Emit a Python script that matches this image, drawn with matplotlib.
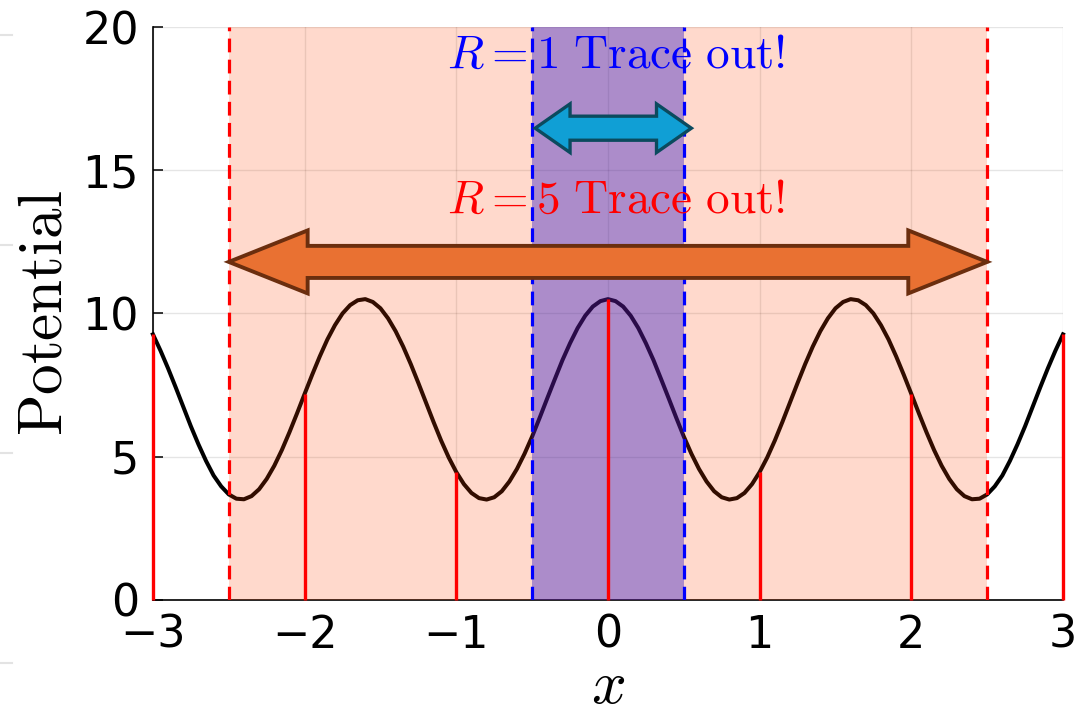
import matplotlib
matplotlib.use("Agg")
import matplotlib.pyplot as plt
import numpy as np
from matplotlib.patches import Polygon
from matplotlib.lines import Line2D

plt.rcParams['mathtext.fontset'] = 'cm'
plt.rcParams['font.family'] = ['DejaVu Sans']

# --- data ---
x_vals = np.round(np.arange(-3.0, 3.0001, 0.05), 2)
potential = [
    9.27, 8.70, 8.08, 7.42, 6.74, 6.06, 5.43, 4.85, 4.34, 3.96,
    3.68, 3.53, 3.51, 3.62, 3.86, 4.22, 4.68, 5.23, 5.85, 6.51,
    7.19, 7.86, 8.50, 9.09, 9.59, 10.00, 10.29, 10.46, 10.50, 10.40,
    10.18, 9.83, 9.38, 8.84, 8.23, 7.57, 6.89, 6.21, 5.56, 4.97,
    4.46, 4.04, 3.73, 3.55, 3.50, 3.58, 3.79, 4.13, 4.57, 5.10,
    5.70, 6.36, 7.04, 7.71, 8.37, 8.96, 9.49, 9.92, 10.24, 10.43,
    10.50,
    10.43, 10.24, 9.92, 9.49, 8.96, 8.37, 7.71, 7.04, 6.36, 5.70,
    5.10, 4.57, 4.13, 3.79, 3.58, 3.50, 3.55, 3.73, 4.04, 4.46,
    4.97, 5.56, 6.21, 6.89, 7.57, 8.23, 8.84, 9.38, 9.83, 10.18,
    10.40, 10.50, 10.46, 10.29, 10.00, 9.59, 9.09, 8.50, 7.86, 7.19,
    6.51, 5.85, 5.23, 4.68, 4.22, 3.86, 3.62, 3.51, 3.53, 3.68,
    3.96, 4.34, 4.85, 5.43, 6.06, 6.74, 7.42, 8.08, 8.70, 9.27,
]
stem_x = [-3, -2, -1, 0, 1, 2, 3]
stem_top = [9.27, 7.19, 4.46, 10.50, 4.46, 7.19, 9.27]

R5_span = (-2.5, 2.5)
R1_span = (-0.5, 0.5)
x_ticks = [-3, -2, -1, 0, 1, 2, 3]
y_ticks = [0, 5, 10, 15, 20]


def double_arrow(ax, x0, x1, y, shaft, head, head_len, fc, ec, lw):
    pts = [(x0, y), (x0 + head_len, y + head), (x0 + head_len, y + shaft),
           (x1 - head_len, y + shaft), (x1 - head_len, y + head), (x1, y),
           (x1 - head_len, y - head), (x1 - head_len, y - shaft),
           (x0 + head_len, y - shaft), (x0 + head_len, y - head)]
    ax.add_patch(Polygon(pts, closed=True, fc=fc, ec=ec, lw=lw,
                         joinstyle='miter', zorder=5))


fig = plt.figure(figsize=(10.77, 7.14), dpi=100)
ax = fig.add_axes([0.142, 0.16, 0.845, 0.802])

# curve under the shaded bands
ax.plot(x_vals, potential, color='black', lw=2.9, zorder=2, clip_on=False)
ax.axvspan(*R5_span, color='orangered', alpha=0.2, lw=0, zorder=3)
ax.axvspan(*R1_span, color='#1E0AC8', alpha=0.37, lw=0, zorder=3.1)

ax.vlines(stem_x, 0, stem_top, color='red', lw=2.4, zorder=4, clip_on=False)
for xv in R5_span:
    ax.axvline(xv, color='red', ls=(0, (4.3, 2.3)), lw=2.3, zorder=4)
for xv in R1_span:
    ax.axvline(xv, color='blue', ls=(0, (4.3, 2.3)), lw=2.3, zorder=4)

# arrows
double_arrow(ax, -2.5, 2.5, 11.8, 0.56, 1.1, 0.52, '#E97132', '#6B2E0E', 2.8)
double_arrow(ax, -0.48, 0.55, 16.47, 0.42, 0.85, 0.23, '#109FD5', '#0B4A5E', 2.4)

ax.text(0.05, 19.0, r"$R=1\ \mathrm{Trace\ out!}$", color='blue',
        fontsize=34, ha='center', va='center', zorder=6)
ax.text(0.05, 13.95, r"$R=5\ \mathrm{Trace\ out!}$", color='red',
        fontsize=34, ha='center', va='center', zorder=6)

ax.set_xlim(-3, 3)
ax.set_ylim(0, 20)
ax.set_xticks(x_ticks)
ax.set_yticks(y_ticks)
ax.tick_params(direction='in', length=7, width=1.1, pad=10, labelsize=32)
ax.grid(True, color='black', alpha=0.1, lw=1.0)
ax.set_axisbelow(True)
for s in ['top', 'right']:
    ax.spines[s].set_visible(False)
for s in ['left', 'bottom']:
    ax.spines[s].set_linewidth(1.2)

ax.set_xlabel(r"$x$", fontsize=44, labelpad=0)
ax.set_ylabel(r"$\mathrm{Potential}$", fontsize=44, labelpad=6)

# faint marks at the left edge
for yy in (35, 245, 453, 663):
    fig.add_artist(Line2D([0, 12 / 1077], [1 - yy / 714] * 2, color='#e3e3e3',
                          lw=1.5, transform=fig.transFigure))

fig.savefig('out.png', dpi=100)
